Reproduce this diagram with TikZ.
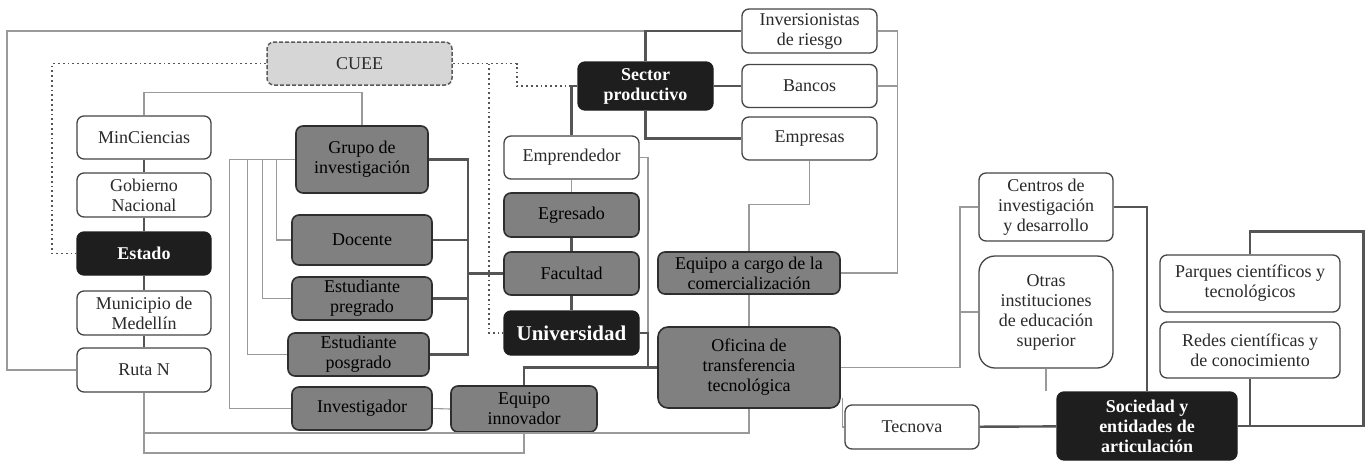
\documentclass[tikz,border=0pt]{standalone}
\usepackage{fontspec}
\setmainfont{Liberation Serif}
\newfontfamily\diagramFont{Liberation Serif}
\usetikzlibrary{calc}

\definecolor{lineGray}{HTML}{9A9A9A}
\definecolor{lineDark}{HTML}{555555}
\definecolor{borderGray}{HTML}{454545}
\definecolor{borderDark}{HTML}{2E2E2E}
\definecolor{fillGray}{HTML}{808080}
\definecolor{fillBlack}{HTML}{1E1E1E}
\definecolor{fillLight}{HTML}{D6D6D6}
\definecolor{dashGray}{HTML}{5A5A5A}
\definecolor{textDark}{HTML}{2A2A2A}

\begin{document}
\begin{tikzpicture}
[x=1pt,y=-1pt,
  every node/.style={rounded corners=7pt,draw=borderGray,line width=1.3pt,align=center,
    inner sep=2pt,text=textDark,font=\diagramFont\fontsize{18}{20}\selectfont},
  boxWhite/.style={fill=white},
  boxGray/.style={fill=fillGray,draw=borderDark,line width=1.6pt,text=black},
  boxBlack/.style={fill=fillBlack,draw=fillBlack,text=white,font=\diagramFont\fontsize{18}{20}\selectfont\bfseries},
  boxDashed/.style={fill=fillLight,draw=dashGray,line width=1.5pt,dash pattern=on 4pt off 2pt},
  boxSize/.style 2 args={minimum width=#1,minimum height=#2},
  lineThin/.style={-,draw=lineGray,line width=1.1pt},
  lineThick/.style={-,draw=lineDark,line width=2.4pt},
  lineDotted/.style={-,draw=lineDark,line width=1.8pt,dash pattern=on 1.8pt off 3pt}]
\useasboundingbox (0,0) rectangle (1366,461);

% estado
\node[boxDashed,boxSize={185pt}{43pt}] (cuee) at (359.5,63.5) {CUEE};
\node[boxWhite,boxSize={134pt}{43pt}] (minCiencias) at (144,137.5) {MinCiencias};
\node[boxWhite,boxSize={134pt}{44pt}] (gobierno) at (144,195) {Gobierno\\Nacional};
\node[boxBlack,boxSize={134pt}{43pt}] (estado) at (144,253.5) {Estado};
\node[boxWhite,boxSize={134pt}{44pt}] (municipio) at (144,313) {Municipio de\\Medellín};
\node[boxWhite,boxSize={134pt}{44pt}] (rutaN) at (144,370) {Ruta N};

% universidad
\node[boxGray,boxSize={132pt}{67pt}] (grupo) at (362,159.5) {Grupo de\\investigación};
\node[boxGray,boxSize={140pt}{50pt}] (docente) at (362,240) {Docente};
\node[boxGray,boxSize={140pt}{43pt}] (estPregrado) at (362,298.5) {Estudiante\\pregrado};
\node[boxGray,boxSize={141pt}{43pt}] (estPosgrado) at (358.5,354.5) {Estudiante\\posgrado};
\node[boxGray,boxSize={140pt}{43pt}] (investigador) at (362,408.5) {Investigador};
\node[boxGray,boxSize={146pt}{46pt}] (equipoInnov) at (524,409) {Equipo\\innovador};
\node[boxWhite,boxSize={135pt}{43pt}] (emprendedor) at (571.5,157.5) {Emprendedor};
\node[boxGray,boxSize={135pt}{44pt}] (egresado) at (571.5,215) {Egresado};
\node[boxGray,boxSize={135pt}{43pt}] (facultad) at (571.5,273.5) {Facultad};
\node[boxBlack,boxSize={135pt}{44pt},font=\diagramFont\fontsize{21}{22}\selectfont\bfseries] (universidad) at (571.5,333) {Universidad};
\node[boxGray,boxSize={182pt}{42pt}] (equipoCom) at (749,273) {Equipo a cargo de la\\comercialización};
\node[boxGray,boxSize={182pt}{81pt},rounded corners=10pt] (oficina) at (749,367.5) {Oficina de\\transferencia\\tecnológica};

% sector productivo
\node[boxBlack,boxSize={135pt}{48pt}] (sector) at (645.5,86) {Sector\\productivo};
\node[boxWhite,boxSize={135pt}{44pt}] (inversionistas) at (809.5,31) {Inversionistas\\de riesgo};
\node[boxWhite,boxSize={135pt}{43pt}] (bancos) at (809.5,86) {Bancos};
\node[boxWhite,boxSize={135pt}{43pt}] (empresas) at (809.5,138.5) {Empresas};

% sociedad
\node[boxWhite,boxSize={134pt}{44pt}] (tecnova) at (912,427) {Tecnova};
\node[boxWhite,boxSize={134pt}{68pt}] (centros) at (1046,207) {Centros de\\investigación\\y desarrollo};
\node[boxWhite,boxSize={134pt}{112pt},rounded corners=16pt] (otras) at (1046,312) {Otras\\instituciones\\de educación\\superior};
\node[boxWhite,boxSize={180pt}{57pt}] (parques) at (1250,283.5) {Parques científicos y\\tecnológicos};
\node[boxWhite,boxSize={180pt}{56pt}] (redes) at (1250,350) {Redes científicas y\\de conocimiento};
\node[boxBlack,boxSize={180pt}{68pt}] (sociedad) at (1147,426) {Sociedad y\\entidades de\\articulación};

\coordinate (busR) at (468,0);
\coordinate (busC) at (960,0);
\coordinate (jctU) at (648,367.5);

% thin connectors
\draw[lineThin] (rutaN.west) -| (7,31) -| (sector.north);
\draw[lineThin] (grupo.north) -- ++(0,-33) -| (minCiencias.north);
\foreach \dx/\target in {19/docente, 33/estPregrado, 48/estPosgrado, 66/investigador}
  \draw[lineThin] (grupo.west) -- ++(-\dx,0) |- (\target.west);
\draw[lineThin] (investigador.east) -- (equipoInnov.west);
\draw[lineThin] (rutaN.south) -- (144,433) -| (oficina.south);
\draw[lineThin] (rutaN.south) -- (144,453) -| (equipoInnov.south);
\draw[lineThin] (emprendedor.south) -- (egresado.north);
\draw[lineThin] (emprendedor.east) -| (jctU);
\draw[lineThin] (empresas.south) -- ++(0,44) -| (equipoCom.north);
\draw[lineThin] (equipoCom.south) -- (oficina.north);
\draw[lineThin] (inversionistas.east) -- ++(20,0) |- (equipoCom.east);
\draw[lineThin] (bancos.east) -- ++(20,0);
\draw[lineThin] (oficina.east) -| (centros.west -| busC) -- (centros.west);
\draw[lineThin] (otras.west) -- (otras.west -| busC);
\draw[lineThin] ([xshift=2pt,yshift=11pt]oficina.south east) |- (tecnova.west);
\draw[lineThin] (otras.south) -- (otras.south |- sociedad.north);

% thick connectors
\path
\foreach \startNode/\endNode in {
  minCiencias/gobierno, gobierno/estado, estado/municipio, municipio/rutaN,
  egresado/facultad, facultad/universidad, sector/bancos, tecnova/sociedad}
{
  (\startNode) edge[lineThick] (\endNode)
};
\draw[lineThick] (grupo.east) -| (estPosgrado.east -| busR) -- (estPosgrado.east);
\foreach \target in {docente, estPregrado}
  \draw[lineThick] (\target.east) -- (\target.east -| busR);
\draw[lineThick] (facultad.west) -- (facultad.west -| busR);
\draw[lineThick] (sector.north) |- (inversionistas.west);
\draw[lineThick] (sector.south) |- (empresas.west);
\draw[lineThick] (emprendedor.north) |- (sector.west);
\draw[lineThick] (universidad.east) -| (jctU);
\draw[lineThick] (oficina.west) -| (equipoInnov.north);
\draw[lineThick] (centros.east) -| (sociedad.north);
\draw[lineThick] (sociedad.east) -- ++(126,0) |- ($(parques.north)+(0,-23)$) -- (parques.north);
\draw[lineThick] (redes.south) -- (redes.south |- sociedad.east);

% dotted connectors
\draw[lineDotted] (cuee.west) -- ++(-214,0) |- (estado.west);
\draw[lineDotted] (cuee.east) -- ++(64,0) |- (sector.west);
\draw[lineDotted] ([xshift=36pt]cuee.east) |- (universidad.west);
\end{tikzpicture}
\end{document}
